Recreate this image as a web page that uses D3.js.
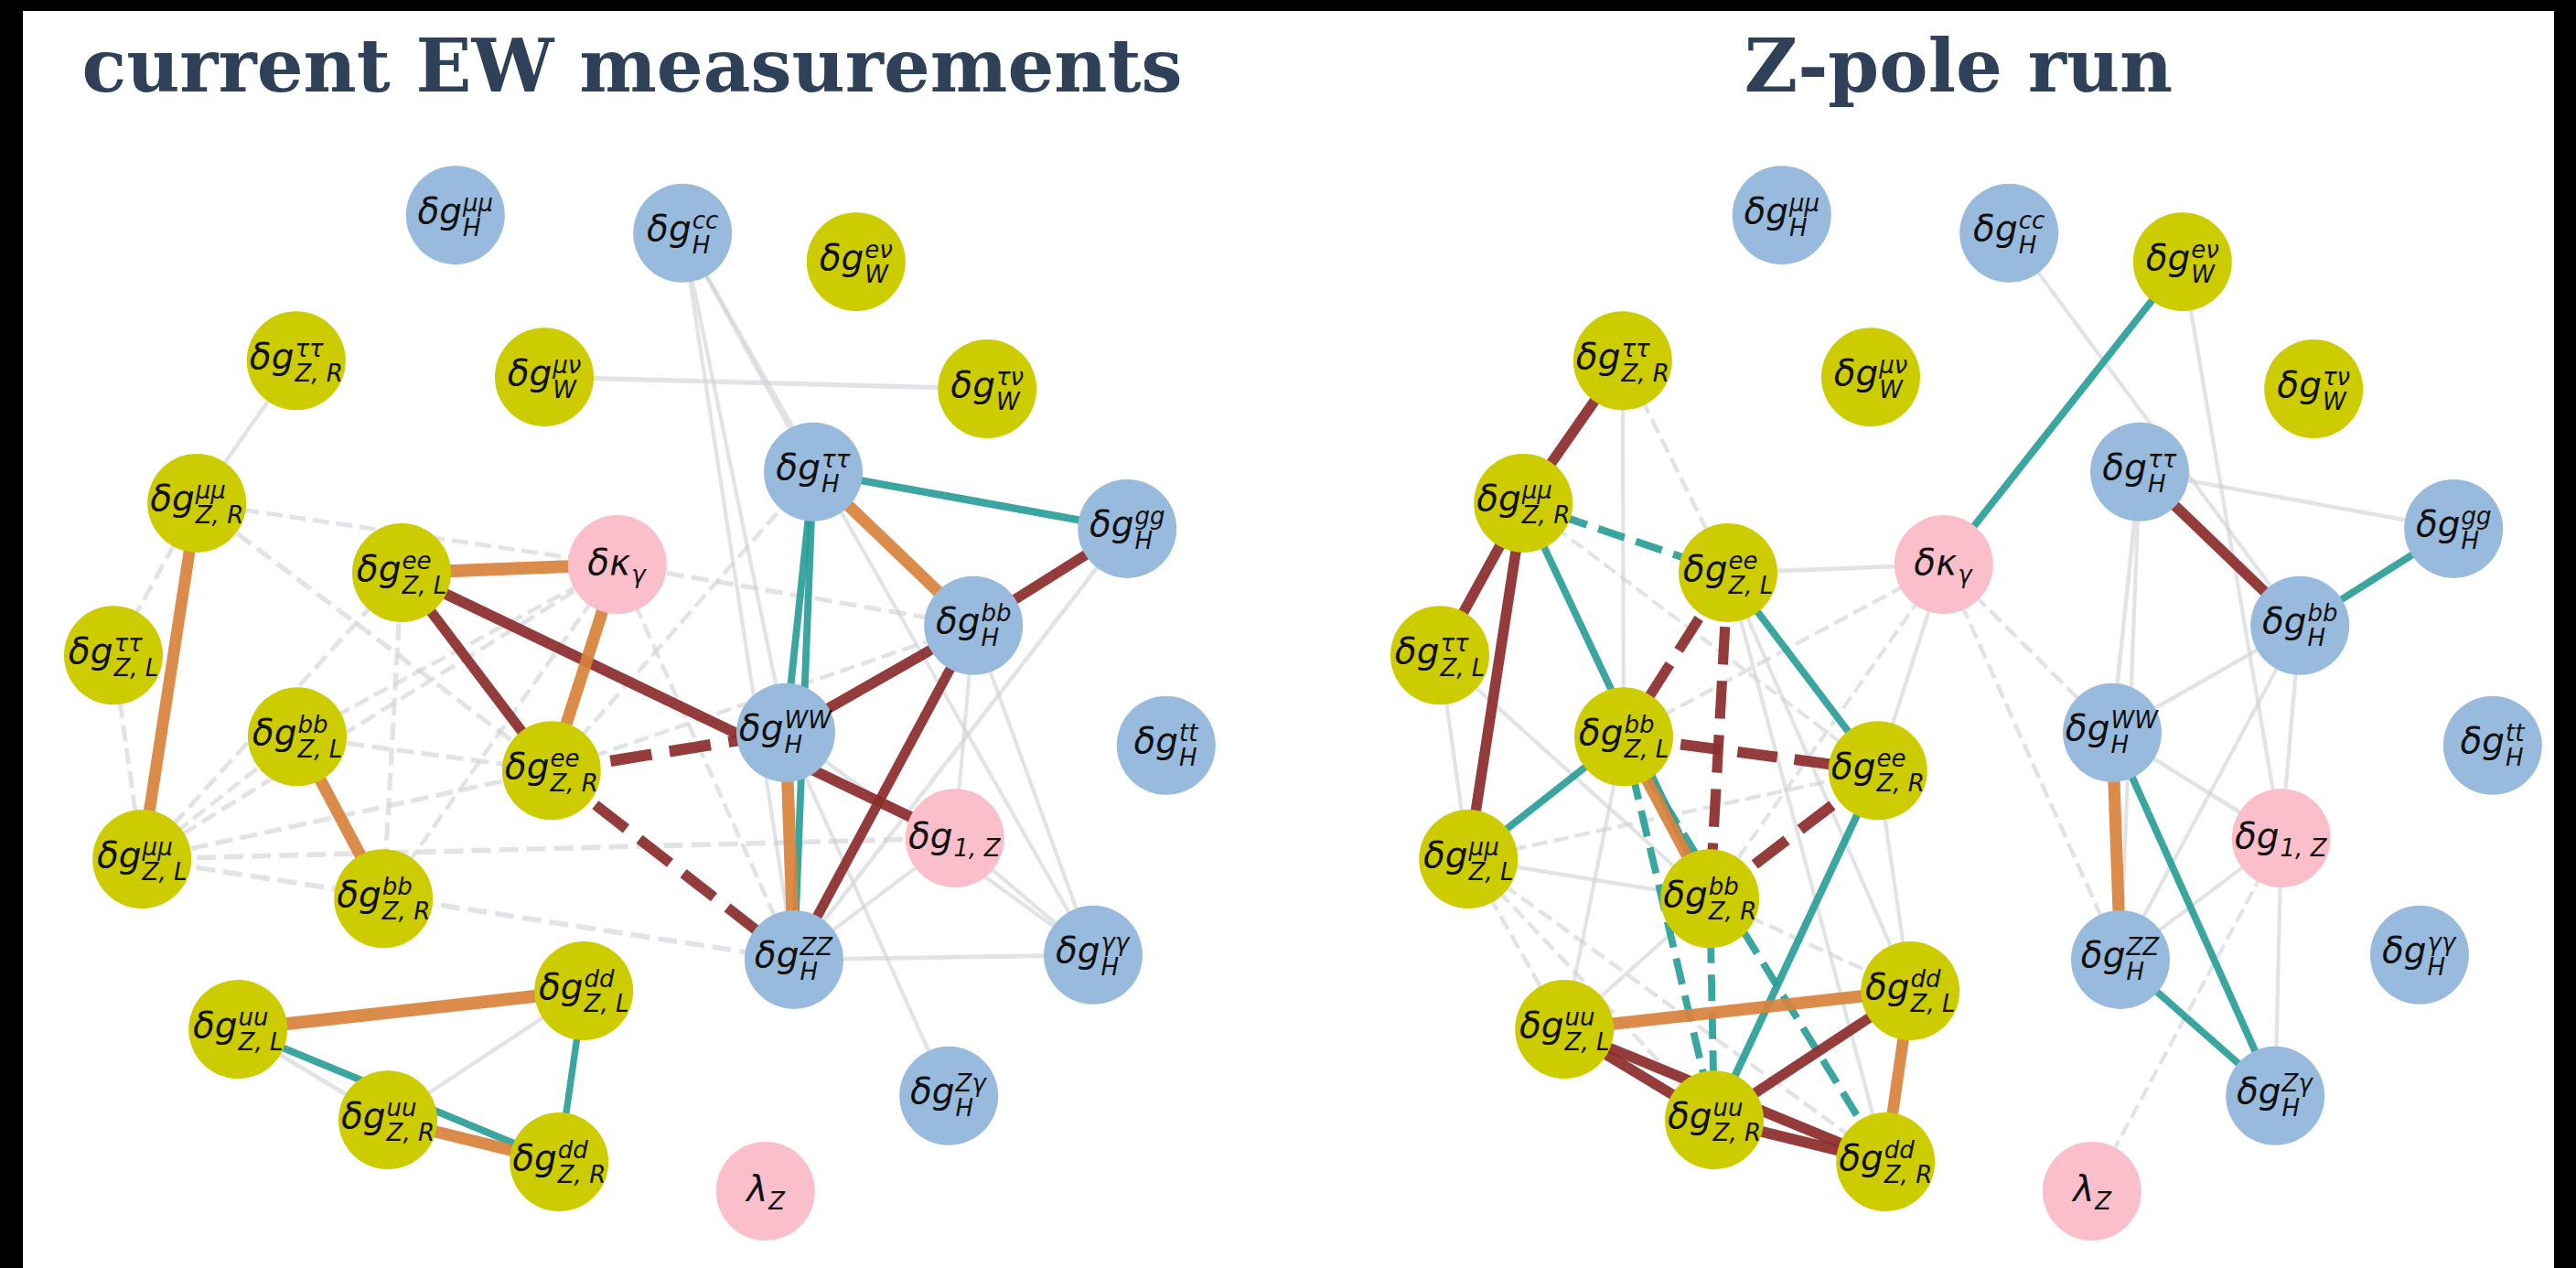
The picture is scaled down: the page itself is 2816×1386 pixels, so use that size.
<!DOCTYPE html>
<html>
<head>
<meta charset="utf-8">
<script src="https://cdn.jsdelivr.net/npm/d3@7"></script>
<style>
  html, body { margin: 0; padding: 0; background: #000; }
  svg { display: block; }
  .node-label text { font-family: "DejaVu Sans", sans-serif; font-style: italic; fill: #111; }
  .panel-title { font-family: "DejaVu Serif", serif; font-weight: bold; fill: #2f4159; }
</style>
</head>
<body>
<svg id="chart" width="2816" height="1386"></svg>
<script>
// ---- Parameters (network nodes) ----
const nodeIds = ["Hmm","Hcc","Wen","ZRtata","Wmn","Wtn","ZRmm","Htata","Hgg","ZLee","kg","ZLtata","Hbb","HWW",
                 "ZLbb","ZRee","Htop","g1Z","ZLmm","ZRbb","HZZ","Hyy","ZLuu","ZLdd","ZRuu","ZRdd","HZy","lZ"];
const nodeGroups = ["H","H","W","Z","W","W","Z","H","H","Z","TGC","Z","H","H",
                    "Z","Z","H","TGC","Z","Z","H","H","Z","Z","Z","Z","H","TGC"];
// label pieces: base symbol, superscript, subscript
const labelMain = ["δg","δg","δg","δg","δg","δg","δg","δg","δg","δg","δκ","δg","δg","δg",
                   "δg","δg","δg","δg","δg","δg","δg","δg","δg","δg","δg","δg","δg","λ"];
const labelSup  = ["μμ","cc","eν","ττ","μν","τν","μμ","ττ","gg","ee","","ττ","bb","WW",
                   "bb","ee","tt","","μμ","bb","ZZ","γγ","uu","dd","uu","dd","Zγ",""];
const labelSub  = ["H","H","W","Z, R","W","W","Z, R","H","H","Z, L","γ","Z, L","H","H",
                   "Z, L","Z, R","H","1, Z","Z, L","Z, R","H","H","Z, L","Z, L","Z, R","Z, R","H","Z"];
// graph layout coordinates (shared by both panels)
const layoutX = [-0.337, 0.077, 0.393,-0.627,-0.175, 0.632,-0.808, 0.315, 0.887,-0.435,-0.042,-0.960, 0.607, 0.265,
                 -0.625,-0.162, 0.958, 0.573,-0.908,-0.468, 0.280, 0.825,-0.733,-0.103,-0.460,-0.148, 0.562, 0.228];
const layoutY = [ 0.955, 0.920, 0.864, 0.671, 0.639, 0.616, 0.393, 0.454, 0.343, 0.257, 0.273, 0.096, 0.154,-0.055,
                 -0.063,-0.129,-0.080,-0.261,-0.302,-0.379,-0.498,-0.489,-0.634,-0.559,-0.811,-0.893,-0.764,-0.950];

const panelTitles = ["current EW measurements", "Z-pole run"];

// ---- Correlations drawn as edges: [node A, node B, correlation] ----
const edgesCurrent = [
  ["ZLee","kg",0.95], ["ZRmm","ZLmm",0.88], ["kg","ZRee",0.9], ["ZLbb","ZRbb",0.9],
  ["Htata","Hbb",0.9], ["HWW","HZZ",0.92], ["ZLuu","ZLdd",0.95], ["ZRuu","ZRdd",0.9],
  ["ZLee","ZRee",0.78], ["ZLee","g1Z",0.82], ["Hbb","Hgg",0.78], ["HWW","Hbb",0.8],
  ["Hbb","HZZ",0.76], ["ZRee","HWW",-0.85], ["ZRee","HZZ",-0.8],
  ["Htata","HWW",0.58], ["Htata","HZZ",0.58], ["Htata","Hgg",0.6], ["ZLuu","ZRdd",0.58], ["ZLdd","ZRdd",0.55],
  ["ZRtata","ZRmm",0.38], ["Wmn","Wtn",0.42], ["Hcc","Htata",0.36], ["Hcc","HWW",0.36], ["Hcc","HZZ",0.36],
  ["Hcc","Hyy",0.36], ["Hgg","HZZ",0.38], ["Hbb","Hyy",0.36], ["Hbb","g1Z",0.36], ["HZZ","Hyy",0.4],
  ["HZZ","g1Z",0.36], ["g1Z","Hyy",0.36], ["HWW","HZy",0.36], ["HWW","Hyy",0.36], ["ZLuu","ZRuu",0.4],
  ["ZRuu","ZLdd",0.36],
  ["ZRmm","ZLtata",-0.4], ["ZLtata","ZLmm",-0.4], ["ZRmm","ZRee",-0.42], ["ZRmm","kg",-0.4],
  ["ZLmm","ZLee",-0.4], ["ZLmm","ZRee",-0.42], ["ZLmm","g1Z",-0.45], ["ZLmm","HZZ",-0.45],
  ["ZLmm","kg",-0.4], ["ZLmm","ZLbb",-0.38], ["ZLbb","ZRee",-0.42], ["ZLbb","kg",-0.38],
  ["ZLee","ZRbb",-0.42], ["kg","ZRbb",-0.38], ["kg","Hbb",-0.42], ["kg","HZZ",-0.38],
  ["ZRee","Hbb",-0.38], ["ZRee","Htata",-0.38]
];
const edgesZpole = [
  ["ZRtata","ZRmm",0.8], ["ZRmm","ZLtata",0.8], ["ZRmm","ZLmm",0.8], ["ZRmm","ZLee",-0.6],
  ["ZRmm","ZRbb",0.58], ["ZLee","ZRee",0.58], ["ZLee","ZLbb",-0.78], ["ZLee","ZRbb",-0.78],
  ["ZLbb","ZRee",-0.82], ["ZRee","ZRbb",-0.82], ["ZLbb","ZLmm",0.58], ["ZLbb","ZRbb",0.86],
  ["ZLbb","ZRuu",-0.58], ["ZRbb","ZRuu",-0.58], ["ZLbb","ZRdd",-0.58], ["ZRee","ZRuu",0.6],
  ["ZLuu","ZLdd",0.92], ["ZLuu","ZRuu",0.8], ["ZLuu","ZRdd",0.8], ["ZRuu","ZRdd",0.82],
  ["ZRuu","ZLdd",0.78], ["ZLdd","ZRdd",0.87], ["Wen","kg",0.58], ["Htata","Hbb",0.8],
  ["Hbb","Hgg",0.58], ["HWW","HZZ",0.9], ["HWW","HZy",0.58], ["HZZ","HZy",0.58],
  ["Hcc","Hbb",0.36], ["Wen","g1Z",0.36], ["Htata","Hgg",0.38], ["Htata","HWW",0.38],
  ["Htata","HZZ",0.36], ["HWW","Hbb",0.38], ["HWW","g1Z",0.38], ["HZZ","Hbb",0.36],
  ["HZZ","g1Z",0.36], ["Hbb","g1Z",0.36], ["g1Z","HZy",0.36], ["kg","ZLee",0.4],
  ["kg","ZRee",0.36], ["ZRtata","ZLbb",0.36], ["ZLtata","ZLmm",0.36], ["ZLtata","ZRbb",0.36],
  ["ZLmm","ZRbb",0.38], ["ZLee","ZLdd",0.36], ["ZLee","ZRdd",0.36], ["ZRee","ZLdd",0.36],
  ["ZLuu","ZRbb",0.36], ["ZLuu","ZLbb",0.36],
  ["ZRtata","ZLee",-0.38], ["kg","HWW",-0.38], ["kg","HZZ",-0.38], ["g1Z","lZ",-0.36],
  ["kg","ZLbb",-0.38], ["kg","ZRbb",-0.36], ["ZRmm","ZRee",-0.36], ["ZLmm","ZRee",-0.38],
  ["ZLmm","ZLuu",-0.38], ["ZLmm","ZRuu",-0.38], ["ZLmm","ZRdd",-0.38], ["ZRbb","ZLdd",-0.38]
];
const panelEdges = [edgesCurrent, edgesZpole];

// ---- Styling ----
const W = 2816, H = 1386;
const panelWidth = 1450;
const nodeRadius = 54;
const mainSize = 39, scriptSize = 26;
const groupColor = { Z: "#cccc00", W: "#cccc00", H: "#98badd", TGC: "#fbbfcb" };

function edgeColor(r) {
  const a = Math.abs(r);
  if (a >= 0.86) return "#d9823b";
  if (a >= 0.7) return "#8b2b2b";
  if (a >= 0.5) return "#2a9d98";
  return "#cfd0d6";
}
const edgeWidth = d3.scaleLinear().domain([0.35, 0.95]).range([4, 14]);

const svg = d3.select("#chart");
svg.append("rect").attr("width", W).attr("height", H).attr("fill", "#000");
svg.append("rect").attr("x", 25).attr("y", 12).attr("width", 2767).attr("height", H - 12).attr("fill", "#fff");

const nodes = nodeIds.map((id, i) => ({
  id, group: nodeGroups[i], main: labelMain[i], sup: labelSup[i], sub: labelSub[i],
  lx: layoutX[i], ly: layoutY[i]
}));
const byId = new Map(nodes.map(n => [n.id, n]));

panelTitles.forEach((title, p) => {
  const left = p * panelWidth;
  const x = d3.scaleLinear().domain([-1, 1]).range([left + 100, left + 1300]);
  const y = d3.scaleLinear().domain([-1, 1]).range([1330, 210]);

  const panel = svg.append("g").attr("class", "panel");

  panel.append("text").attr("class", "panel-title")
    .attr("x", x(-0.015)).attr("y", 100)
    .attr("text-anchor", "middle").style("font-size", "80px")
    .text(title);

  const edges = panelEdges[p]
    .map(([a, b, r]) => ({ s: byId.get(a), t: byId.get(b), r }))
    .sort((e1, e2) => Math.abs(e1.r) - Math.abs(e2.r));

  panel.append("g").attr("class", "edges").selectAll("line")
    .data(edges).join("line")
    .attr("x1", d => x(d.s.lx)).attr("y1", d => y(d.s.ly))
    .attr("x2", d => x(d.t.lx)).attr("y2", d => y(d.t.ly))
    .attr("stroke", d => edgeColor(d.r))
    .attr("stroke-opacity", d => Math.abs(d.r) >= 0.5 ? 0.92 : 0.6)
    .attr("stroke-width", d => edgeWidth(Math.abs(d.r)))
    .attr("stroke-dasharray", d => d.r < 0 ? `${3.7 * edgeWidth(Math.abs(d.r))},${1.6 * edgeWidth(Math.abs(d.r))}` : null);

  const nodeG = panel.append("g").attr("class", "nodes").selectAll("g")
    .data(nodes).join("g");
  nodeG.append("circle")
    .attr("cx", d => x(d.lx)).attr("cy", d => y(d.ly))
    .attr("r", nodeRadius)
    .attr("fill", d => groupColor[d.group]);

  nodeG.each(function(d) {
    const lab = d3.select(this).append("g").attr("class", "node-label");
    const m = lab.append("text").style("font-size", mainSize + "px").text(d.main);
    const w = m.node().getComputedTextLength() + 1;
    if (d.sup) {
      lab.append("text").attr("x", w).attr("y", -13).style("font-size", scriptSize + "px").text(d.sup);
      lab.append("text").attr("x", w).attr("y", 14).style("font-size", scriptSize + "px").text(d.sub);
    } else {
      lab.append("text").attr("x", w).attr("y", 9).style("font-size", scriptSize + "px").text(d.sub);
    }
    const bb = lab.node().getBBox();
    lab.attr("transform", `translate(${x(d.lx) - (bb.x + bb.width / 2)},${y(d.ly) - (bb.y + bb.height / 2)})`);
  });
});
</script>
</body>
</html>
